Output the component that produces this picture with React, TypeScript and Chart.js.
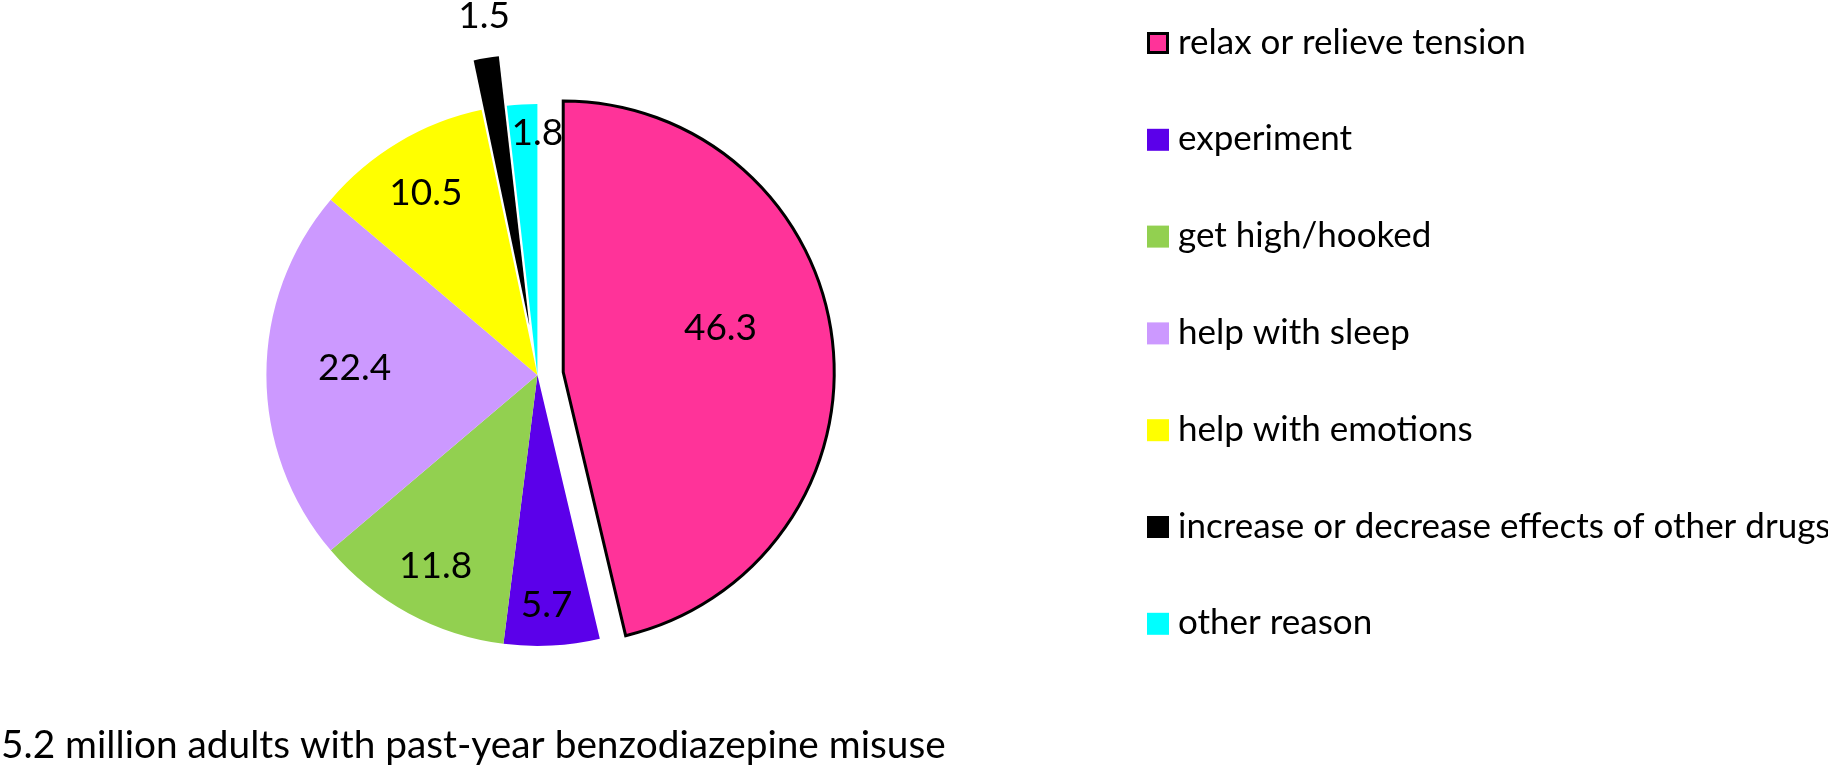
import React, { useEffect, useRef } from "react";
import { Chart, registerables } from "chart.js";

Chart.register(...registerables);

// ---- data ----
const categories = [
  "relax or relieve tension",
  "experiment",
  "get high/hooked",
  "help with sleep",
  "help with emotions",
  "increase or decrease effects of other drugs",
  "other reason",
];
const percentages = [46.3, 5.7, 11.8, 22.4, 10.5, 1.5, 1.8];
const caption = "5.2 million adults with past-year benzodiazepine misuse";

// ---- styles / layout ----
const sliceColors = ["#FF3399", "#5B00EA", "#92D050", "#CC99FF", "#FFFF00", "#000000", "#00FFFF"];
const sliceBorderWidths = [3, 0, 0, 0, 0, 0, 0];
const explodeOffsets = [26, 0, 0, 0, 0, 50, 0];
const labelAngleFrac = [0.4435, 0.537, 0.494, 0.532, 0.486, 0.66, 1.0];
const labelRadiusFrac = [0.604, 0.843, 0.795, 0.675, 0.792, 1.158, 0.898];

const W = 1828;
const H = 771;
const CENTER_X = 537.4;
const CENTER_Y = 375;
const RADIUS = 271;
const FONT = "Lato, 'Open Sans', sans-serif";
const LABEL_SIZE = 37;
const LEGEND_SIZE = 35;
const CAPTION_SIZE = 38.8;
const LEGEND_BOX_X = 1147;
const LEGEND_TEXT_X = 1178;
const LEGEND_TOP = 43;
const LEGEND_STEP = 96.8;
const BOX = 22;

const explodePlugin = {
  id: "explode",
  afterDatasetsUpdate(chart: any) {
    const meta = chart.getDatasetMeta(0);
    meta.data.forEach((arc: any, i: number) => {
      const e = explodeOffsets[i] || 0;
      if (!e) return;
      const mid = (arc.startAngle + arc.endAngle) / 2;
      arc.x += Math.cos(mid) * e;
      arc.y += Math.sin(mid) * e;
    });
  },
};

const labelPlugin = {
  id: "sliceLabels",
  afterDatasetsDraw(chart: any) {
    const ctx = chart.ctx;
    const meta = chart.getDatasetMeta(0);
    ctx.save();
    ctx.font = `${LABEL_SIZE}px ${FONT}`;
    ctx.fillStyle = "#000";
    ctx.textAlign = "center";
    ctx.textBaseline = "alphabetic";
    meta.data.forEach((arc: any, i: number) => {
      const a = arc.startAngle + (arc.endAngle - arc.startAngle) * labelAngleFrac[i];
      const r = arc.outerRadius * labelRadiusFrac[i];
      const x = arc.x + Math.cos(a) * r;
      const y = arc.y + Math.sin(a) * r;
      ctx.fillText(percentages[i].toFixed(1), x, y + LABEL_SIZE * 0.36);
    });
    ctx.restore();
  },
};

const legendPlugin = {
  id: "sideLegend",
  afterDraw(chart: any) {
    const ctx = chart.ctx;
    ctx.save();
    ctx.font = `${LEGEND_SIZE}px ${FONT}`;
    ctx.textAlign = "left";
    ctx.textBaseline = "alphabetic";
    categories.forEach((name, i) => {
      const cy = LEGEND_TOP + i * LEGEND_STEP;
      const y = cy - BOX / 2;
      ctx.fillStyle = sliceColors[i];
      ctx.fillRect(LEGEND_BOX_X, y, BOX, BOX);
      if (sliceBorderWidths[i]) {
        ctx.lineWidth = 3;
        ctx.strokeStyle = "#000";
        ctx.strokeRect(LEGEND_BOX_X + 1.5, y + 1.5, BOX - 3, BOX - 3);
      }
      ctx.fillStyle = "#000";
      ctx.fillText(name, LEGEND_TEXT_X, cy + 10.5);
    });
    ctx.font = `${CAPTION_SIZE}px ${FONT}`;
    ctx.fillText(caption, 1, 758);
    ctx.restore();
  },
};

export default function App() {
  const ref = useRef<HTMLCanvasElement>(null);
  useEffect(() => {
    const chart = new Chart(ref.current as HTMLCanvasElement, {
      type: "pie",
      data: {
        labels: categories,
        datasets: [
          {
            data: percentages,
            backgroundColor: sliceColors,
            borderColor: "#000000",
            borderWidth: sliceBorderWidths,
            borderJoinStyle: "miter",
            radius: RADIUS,
          } as any,
        ],
      },
      options: {
        animation: false,
        responsive: true,
        maintainAspectRatio: false,
        events: [],
        layout: {
          padding: { left: 0, right: W - 2 * CENTER_X, top: 0, bottom: H - 2 * CENTER_Y },
        },
        plugins: {
          legend: { display: false },
          tooltip: { enabled: false },
        },
      } as any,
      plugins: [explodePlugin, labelPlugin, legendPlugin],
    });
    return () => chart.destroy();
  }, []);
  return (
    <div style={{ position: "absolute", left: 0, top: 0, width: W, height: H, background: "#fff" }}>
      <canvas ref={ref} />
    </div>
  );
}
